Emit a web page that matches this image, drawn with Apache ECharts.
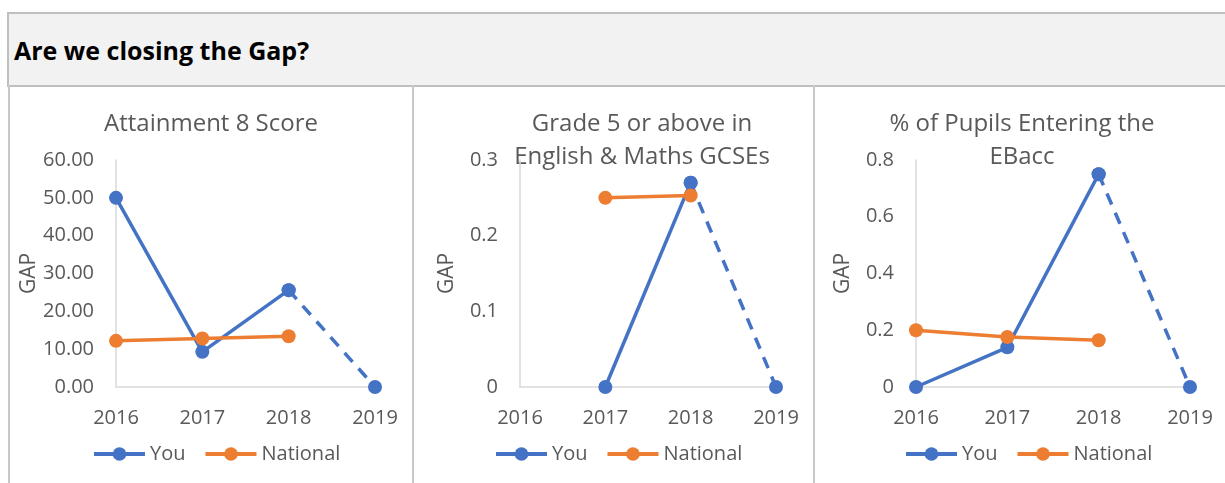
<!DOCTYPE html>
<html>
<head>
<meta charset="utf-8">
<script src="https://cdn.jsdelivr.net/npm/echarts@6/dist/echarts.min.js"></script>
<style>
  html, body { margin: 0; padding: 0; background: #fff; }
  #page { position: relative; width: 1225px; height: 483px; overflow: hidden; font-family: "Open Sans", sans-serif; }
  #chart { position: absolute; left: 0; top: 0; width: 1225px; height: 483px; }
  .header { position: absolute; left: 7px; top: 12px; width: 1230px; height: 71px; background: #f2f2f2; border: 2px solid #bfbfbf; z-index: 2; }
  .header span { position: absolute; left: 5px; top: 19px; font-weight: bold; font-size: 25px; color: #000; }
  .divider { position: absolute; top: 85px; width: 2px; height: 400px; background: #c8c8c8; z-index: 2; }
</style>
</head>
<body>
<div id="page">
  <div id="chart"></div>
  <div class="header"><span>Are we closing the Gap?</span></div>
  <div class="divider" style="left:8px"></div>
  <div class="divider" style="left:412px"></div>
  <div class="divider" style="left:813px"></div>
</div>
<script>
// data
var years = ['2016', '2017', '2018', '2019'];
var titles = ['Attainment 8 Score', 'Grade 5 or above in\nEnglish & Maths GCSEs', '% of Pupils Entering the\nEBacc'];
var att8You = [50, 9.3, 25.6, 0];
var att8National = [12.2, 12.8, 13.4, null];
var gradeYou = [null, 0, 0.27, 0];
var gradeNational = [null, 0.25, 0.253, null];
var ebaccYou = [0, 0.14, 0.75, 0];
var ebaccNational = [0.2, 0.176, 0.165, null];
var yMax = [60, 0.3, 0.8];
var yStep = [10, 0.1, 0.2];

var blue = '#4472c4', orange = '#ed7d31', grey = '#595959';

// panel placement
var grids = [
    { left: 116, top: 160, width: 259, height: 227 },
    { left: 520, top: 160, width: 256, height: 227 },
    { left: 916, top: 160, width: 274, height: 227 }
];
var titleX = [211, 642, 1022];
var legendX = [92, 494, 904];

var myChart = echarts.init(document.getElementById('chart'));

function clean(arr) {
    return arr.map(function (v) { return v === null ? '-' : v; });
}

var xAxes = [], yAxes = [], series = [], legends = [], graphics = [];
var youSets = [att8You, gradeYou, ebaccYou];
var natSets = [att8National, gradeNational, ebaccNational];

for (var i = 0; i < 3; i++) {
    xAxes.push({
        gridIndex: i,
        type: 'category',
        boundaryGap: false,
        data: years,
        axisLine: { lineStyle: { color: '#d9d9d9', width: 1.5 } },
        axisTick: { show: false },
        axisLabel: { interval: 0, color: grey, fontSize: 20, margin: 21, fontFamily: 'Open Sans' }
    });
    yAxes.push({
        gridIndex: i,
        type: 'value',
        min: 0,
        max: yMax[i],
        interval: yStep[i],
        name: 'GAP',
        nameLocation: 'middle',
        nameRotate: 90,
        nameGap: i === 0 ? 76 : 62,
        nameTextStyle: { color: grey, fontSize: 21, fontFamily: 'Open Sans' },
        axisLine: { show: true, lineStyle: { color: '#d9d9d9', width: 1.5 } },
        axisTick: { show: false },
        splitLine: { show: false },
        axisLabel: {
            color: grey, fontSize: 20, margin: 22, fontFamily: 'Open Sans',
            formatter: i === 0 ? function (v) { return v.toFixed(2); } : null
        }
    });

    var you = youSets[i];
    var solid = you.map(function (v, k) { return k <= 2 ? v : null; });
    var dashed = you.map(function (v, k) { return k >= 2 ? v : null; });

    series.push({
        name: 'You', type: 'line', xAxisIndex: i, yAxisIndex: i,
        data: clean(solid), symbol: 'circle', symbolSize: 14,
        itemStyle: { color: blue }, lineStyle: { color: blue, width: 3.5 }
    });
    series.push({
        name: 'You (est)', type: 'line', xAxisIndex: i, yAxisIndex: i,
        data: clean(dashed), symbol: 'circle', symbolSize: 14,
        itemStyle: { color: blue }, lineStyle: { color: blue, width: 3.5, type: [12, 9] }
    });
    series.push({
        name: 'National', type: 'line', xAxisIndex: i, yAxisIndex: i,
        data: clean(natSets[i]), symbol: 'circle', symbolSize: 14,
        itemStyle: { color: orange }, lineStyle: { color: orange, width: 3.5 }
    });

    legends.push({
        data: ['You', 'National'],
        left: legendX[i],
        top: 444,
        padding: 0,
        itemWidth: 51,
        itemHeight: 17,
        itemGap: 18,
        lineStyle: { width: 4 },
        textStyle: { color: grey, fontSize: 20, fontFamily: 'Open Sans' }
    });

    graphics.push({
        type: 'text',
        x: titleX[i],
        y: 108,
        style: {
            text: titles[i],
            textAlign: 'center',
            fill: grey,
            fontSize: 24,
            fontFamily: 'Open Sans',
            lineHeight: 33
        }
    });
}

var option = {
    animation: false,
    grid: grids,
    xAxis: xAxes,
    yAxis: yAxes,
    legend: legends,
    graphic: graphics,
    series: series
};

myChart.setOption(option, true);
</script>
</body>
</html>
